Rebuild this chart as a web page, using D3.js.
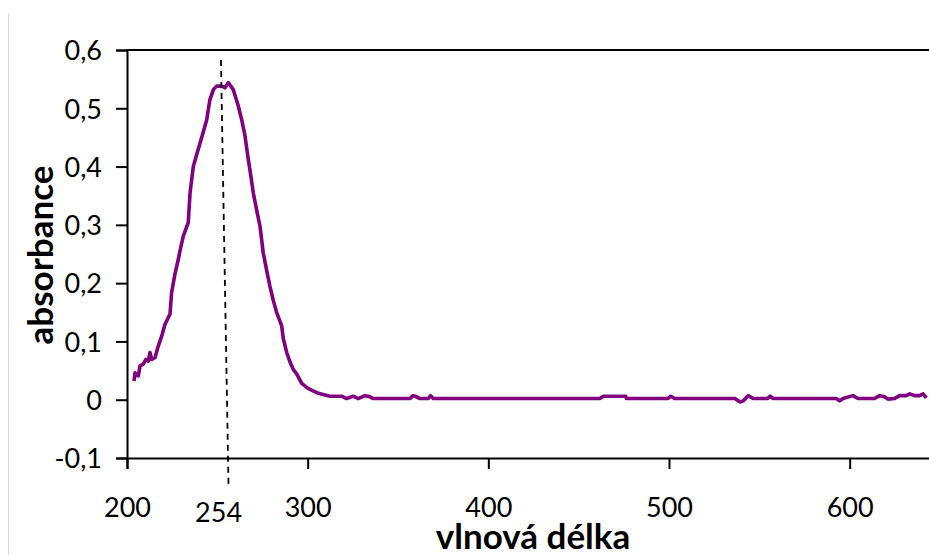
<!DOCTYPE html>
<html>
<head>
<meta charset="utf-8">
<script src="https://cdn.jsdelivr.net/npm/d3@7"></script>
<style>
body { margin:0; background:#fff; }
svg text { font-family: Lato, "Open Sans", sans-serif; fill:#000; }
</style>
</head>
<body>
<svg id="chart" width="929" height="555"></svg>
<script>
// wavelength (nm) and absorbance
var wavelength = [203.9,204.4,206.3,207.2,209.0,210.5,211.8,212.7,213.7,215.5,217.3,219.2,221.0,223.8,224.7,
    226.5,228.4,230.0,231.2,233.9,234.9,236.7,238.5,240.4,242.3,244.1,245.9,247.8,249.6,251.5,253.3,254.2,
    255.2,256.1,257.0,258.8,260.2,261.6,263.5,265.3,267.1,268.5,269.9,271.8,273.6,275.4,277.3,279.1,281.0,
    282.8,285.6,286.5,288.4,290.2,292.0,294.0,296.7,300.0,303.0,306.0,308.5,312.3,318.8,321.6,325.2,328.0,
    331.7,334.5,336.3,356.6,358.4,360.3,362.1,366.7,368.0,369.5,461.7,463.6,476.0,476.5,499.5,500.9,503.3,
    536.5,539.3,541.0,543.8,546.6,554.5,556.0,557.7,592.6,594.5,596.3,601.8,604.6,613.8,616.6,619.3,621.2,
    624.9,627.6,631.3,633.2,635.9,638.7,640.6,642.4];
var absorbance = [0.032,0.046,0.041,0.058,0.061,0.069,0.066,0.081,0.069,0.072,0.092,0.109,0.129,0.147,0.184,
    0.215,0.241,0.265,0.281,0.304,0.355,0.400,0.420,0.440,0.460,0.480,0.515,0.532,0.538,0.538,0.537,0.535,
    0.540,0.544,0.540,0.532,0.518,0.504,0.480,0.453,0.413,0.385,0.355,0.325,0.298,0.252,0.222,0.195,0.170,
    0.150,0.127,0.105,0.081,0.065,0.052,0.044,0.028,0.020,0.015,0.011,0.009,0.006,0.006,0.002,0.006,0.002,
    0.007,0.005,0.002,0.002,0.007,0.005,0.002,0.002,0.007,0.002,0.002,0.006,0.006,0.002,0.002,0.006,0.002,
    0.002,-0.004,-0.002,0.007,0.002,0.002,0.006,0.002,0.002,-0.002,0.002,0.007,0.002,0.002,0.007,0.005,0.001,
    0.002,0.007,0.007,0.010,0.007,0.007,0.010,0.003];

var xTicks = [200,300,400,500,600];
var yTicks = [-0.1,0,0.1,0.2,0.3,0.4,0.5,0.6];
var peakNm = 254;
// marker line for the maximum (drawn slightly slanted in the original)
var peakLineX = [252.0, 256.2];
var peakLineY = [0.583, -0.15];

var svg = d3.select("#chart");

var x = d3.scaleLinear().domain([200,650]).range([127,940]);
var y = d3.scaleLinear().domain([-0.1,0.6]).range([458,50]);

var cz = d3.formatLocale({decimal:",", thousands:" ", grouping:[3], currency:["",""], minus:"-"}).format(".1f");
function yfmt(d){ return Math.abs(d) < 1e-9 ? "0" : cz(d); }

// thin grey border on the left of the chart area
svg.append("line")
    .attr("x1",8.5).attr("x2",8.5).attr("y1",13).attr("y2",555)
    .attr("stroke","#d9d9d9").attr("stroke-width",1);

// top border of the plot area
svg.append("line")
    .attr("x1",x(200)).attr("x2",929).attr("y1",y(0.6)).attr("y2",y(0.6))
    .attr("stroke","#000").attr("stroke-width",2);

var yAxis = svg.append("g")
    .attr("transform","translate(" + x(200) + ",0)")
    .call(d3.axisLeft(y).tickValues(yTicks).tickSize(11).tickPadding(14).tickFormat(yfmt));
yAxis.selectAll("text").style("font-size","27px").attr("dy","0.36em");

var xAxis = svg.append("g")
    .attr("transform","translate(0," + y(-0.1) + ")")
    .call(d3.axisBottom(x).tickValues(xTicks).tickSize(11).tickFormat(d3.format("d")));
xAxis.selectAll("text").style("font-size","27px").attr("y",59).attr("dy",0);

svg.selectAll(".domain, .tick line").attr("stroke","#000").attr("stroke-width",2);

// spectrum
var pts = wavelength.map(function(w,i){ return [w, absorbance[i]]; });
svg.append("path")
    .datum(pts)
    .attr("fill","none")
    .attr("stroke","#800080")
    .attr("stroke-width",3.6)
    .attr("stroke-linejoin","round")
    .attr("d", d3.line().x(function(d){ return x(d[0]); }).y(function(d){ return y(d[1]); }));

// dashed marker at the maximum
svg.append("line")
    .attr("x1",x(peakLineX[0])).attr("y1",y(peakLineY[0]))
    .attr("x2",x(peakLineX[1])).attr("y2",y(peakLineY[1]))
    .attr("stroke","#000").attr("stroke-width",1.8)
    .attr("stroke-dasharray","6,5");

svg.append("text")
    .attr("x",x(peakNm)-6).attr("y",522)
    .attr("text-anchor","middle")
    .style("font-size","27px")
    .text(peakNm);

// axis titles
svg.append("text")
    .attr("transform","translate(53,255) rotate(-90)")
    .attr("text-anchor","middle")
    .style("font-size","35px").style("font-weight","bold")
    .text("absorbance");

svg.append("text")
    .attr("x",533).attr("y",549)
    .attr("text-anchor","middle")
    .style("font-size","35px").style("font-weight","bold")
    .text("vlnová délka");
</script>
</body>
</html>
